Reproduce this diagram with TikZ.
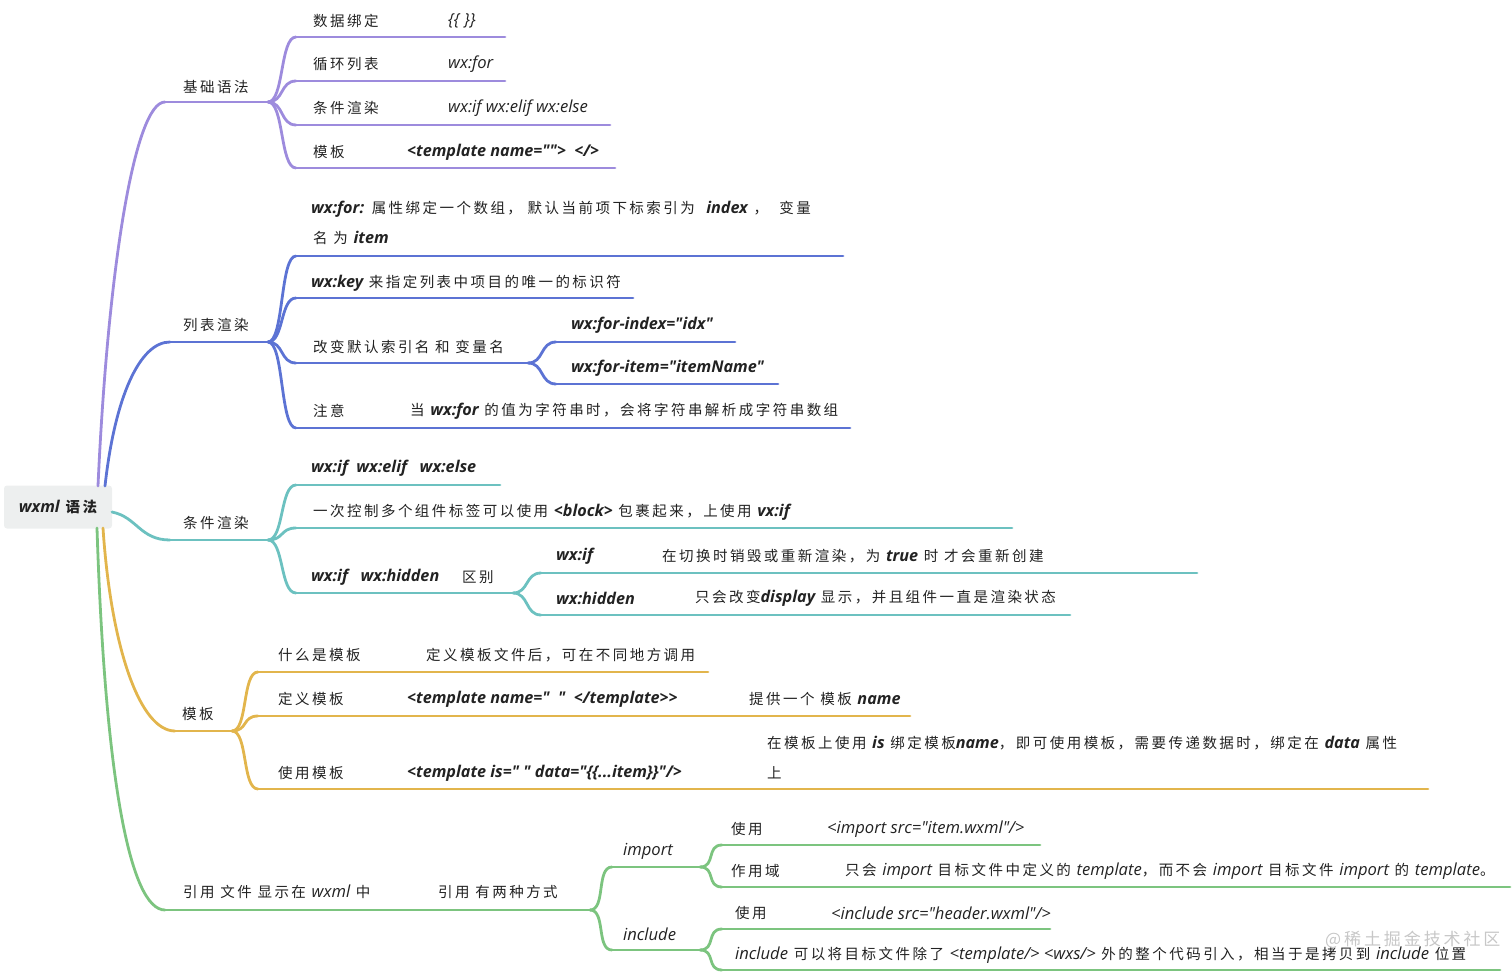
\documentclass[tikz,border=0pt]{standalone}
\usepackage{fontspec}
\setmainfont{Noto Sans CJK SC}[LetterSpace=17]
\newfontfamily\enf{Open Sans}
\newcommand\zhsize{\fontsize{14.5}{17}\selectfont}
\newcommand\en[1]{{\enf\fontsize{16.6}{17}\selectfont\itshape #1}}
\newcommand\eb[1]{{\enf\fontsize{16.2}{17}\selectfont\bfseries\itshape #1}}
\definecolor{cP}{HTML}{9D8BDD}
\definecolor{cB}{HTML}{5C73D4}
\definecolor{cT}{HTML}{6CC1C0}
\definecolor{cY}{HTML}{E2B54C}
\definecolor{cG}{HTML}{7CC47F}
\definecolor{txtc}{HTML}{222222}
\definecolor{rootfill}{HTML}{EDEFEF}
\tikzset{
  br/.style={line width=2.8pt, line cap=round},
  tx/.style={anchor=west, inner sep=0pt, font=\zhsize, text=txtc},
  rootbox/.style={rounded corners=3pt, fill=rootfill, minimum width=108pt, minimum height=43pt, inner sep=0pt, font=\zhsize\bfseries, text=txtc},
  wm/.style={anchor=west, inner sep=0pt, font=\fontsize{17}{19}\selectfont, text=black!22},
}
\newcommand\link[3]{\draw[br,#1] (#2) .. controls +(16,0) and +(-16,0) .. (#3);}
\newcommand\uline[3]{\draw[br,#1] (#2) -- (#3);}
\begin{document}
\begin{tikzpicture}[x=1pt,y=-1pt]
\useasboundingbox (0,0) rectangle (1512,976);
% ---------- root ----------
\node[rootbox] (root) at (58,507) {\eb{wxml} 语法};
\coordinate (rP) at (98,486);
\coordinate (rB) at (105,486);
\coordinate (rT) at (112,512);
\coordinate (rY) at (103,528);
\coordinate (rG) at (97,528);
% ---------- purple: 基础语法 ----------
\coordinate (b1s) at (165,102); \coordinate (b1) at (268,102);
\coordinate (p1s) at (296,37);  \coordinate (p1e) at (505,37);
\coordinate (p2s) at (296,81);  \coordinate (p2e) at (505,81);
\coordinate (p3s) at (296,125); \coordinate (p3e) at (610,125);
\coordinate (p4s) at (296,168); \coordinate (p4e) at (615,168);
\draw[br,cP] (rP) .. controls +(10,-220) and +(-30,0) .. (b1s);
\uline{cP}{b1s}{b1}
\foreach \c in {p1,p2,p3,p4}{\link{cP}{b1}{\c s}\uline{cP}{\c s}{\c e}}
\node[tx] (n1) at (183,87) {基础语法};
\node[tx] (n11) at (313,21) {数据绑定};
\node[tx] (n11b) at (448,21) {\en{\{\{ \}\}}};
\node[tx] (n12) at (313,64) {循环列表};
\node[tx] (n12b) at (448,64) {\en{wx:for}};
\node[tx] (n13) at (313,108) {条件渲染};
\node[tx] (n13b) at (448,108) {\en{wx:if wx:elif wx:else}};
\node[tx] (n14) at (313,152) {模板};
\node[tx] (n14b) at (407,152) {\eb{<template name=""> \ </>}};
% ---------- blue: 列表渲染 ----------
\coordinate (b2s) at (170,342); \coordinate (b2) at (268,342);
\coordinate (q1s) at (296,256); \coordinate (q1e) at (843,256);
\coordinate (q2s) at (296,298); \coordinate (q2e) at (633,298);
\coordinate (q3s) at (296,363); \coordinate (q3) at (528,363);
\coordinate (q4s) at (296,428); \coordinate (q4e) at (850,428);
\coordinate (q31s) at (556,342); \coordinate (q31e) at (735,342);
\coordinate (q32s) at (556,384); \coordinate (q32e) at (778,384);
\draw[br,cB] (rB) .. controls +(10,-90) and +(-30,0) .. (b2s);
\uline{cB}{b2s}{b2}
\foreach \c in {q1,q2,q4}{\link{cB}{b2}{\c s}\uline{cB}{\c s}{\c e}}
\link{cB}{b2}{q3s}\uline{cB}{q3s}{q3}
\foreach \c in {q31,q32}{\link{cB}{q3}{\c s}\uline{cB}{\c s}{\c e}}
\node[tx] (n2) at (183,325) {列表渲染};
\node[tx] (n21) at (311,209) {\eb{wx:for:} 属性绑定一个数组， 默认当前项下标索引为 \ \eb{index} ， \ 变量};
\node[tx] (n21b) at (313,238) {名 为 \eb{item}};
\node[tx] (n22) at (311,283) {\eb{wx:key} 来指定列表中项目的唯一的标识符};
\node[tx] (n23) at (313,347) {改变默认索引名 和 变量名};
\node[tx] (n231) at (571,325) {\eb{wx:for-index="idx"}};
\node[tx] (n232) at (571,368) {\eb{wx:for-item="itemName"}};
\node[tx] (n24) at (313,411) {注意};
\node[tx] (n24b) at (410,411) {当 \eb{wx:for} 的值为字符串时，会将字符串解析成字符串数组};
% ---------- teal: 条件渲染 ----------
\coordinate (b3s) at (170,540); \coordinate (b3) at (268,540);
\coordinate (t1s) at (296,485); \coordinate (t1e) at (500,485);
\coordinate (t2s) at (296,528); \coordinate (t2e) at (1012,528);
\coordinate (t3s) at (296,593); \coordinate (t3) at (513,593);
\coordinate (t31s) at (541,573); \coordinate (t31e) at (1197,573);
\coordinate (t32s) at (541,615); \coordinate (t32e) at (1070,615);
\draw[br,cT] (rT) .. controls +(25,5) and +(-30,0) .. (b3s);
\uline{cT}{b3s}{b3}
\foreach \c in {t1,t2}{\link{cT}{b3}{\c s}\uline{cT}{\c s}{\c e}}
\link{cT}{b3}{t3s}\uline{cT}{t3s}{t3}
\foreach \c in {t31,t32}{\link{cT}{t3}{\c s}\uline{cT}{\c s}{\c e}}
\node[tx] (n3) at (183,523) {条件渲染};
\node[tx] (n31) at (311,468) {\eb{wx:if \ wx:elif \ \ wx:else}};
\node[tx] (n32) at (313,512) {一次控制多个组件标签可以使用 \eb{<block>} 包裹起来，上使用 \eb{vx:if}};
\node[tx] (n33) at (311,577) {\eb{wx:if \ \ wx:hidden}};
\node[tx] (n33b) at (462,577) {区别};
\node[tx] (n331) at (556,556) {\eb{wx:if}};
\node[tx] (n331b) at (662,556) {在切换时销毁或重新渲染，为 \eb{true} 时 才会重新创建};
\node[tx] (n332) at (556,598) {\eb{wx:hidden}};
\node[tx] (n332b) at (695,598) {只会改变\eb{display} 显示，并且组件一直是渲染状态};
% ---------- yellow: 模板 ----------
\coordinate (b4s) at (175,731); \coordinate (b4) at (232,731);
\coordinate (y1s) at (258,672); \coordinate (y1e) at (708,672);
\coordinate (y2s) at (258,716); \coordinate (y2e) at (910,716);
\coordinate (y3s) at (258,789); \coordinate (y3e) at (1428,789);
\draw[br,cY] (rY) .. controls +(8,120) and +(-35,0) .. (b4s);
\uline{cY}{b4s}{b4}
\foreach \c in {y1,y2,y3}{\link{cY}{b4}{\c s}\uline{cY}{\c s}{\c e}}
\node[tx] (n4) at (182,714) {模板};
\node[tx] (n41) at (278,655) {什么是模板};
\node[tx] (n41b) at (426,655) {定义模板文件后，可在不同地方调用};
\node[tx] (n42) at (278,699) {定义模板};
\node[tx] (n42b) at (407,699) {\eb{<template name=" \ " \ </template>>}};
\node[tx] (n42c) at (749,699) {提供一个 模板 \eb{name}};
\node[tx] (n43) at (278,773) {使用模板};
\node[tx] (n43b) at (407,773) {\eb{<template is=" " data="\{\{...item\}\}"/>}};
\node[tx] (n43c) at (767,743) {在模板上使用 \eb{is} 绑定模板\eb{name}，即可使用模板，需要传递数据时，绑定在 \eb{data} 属性};
\node[tx] (n43d) at (767,773) {上};
% ---------- green: 引用 ----------
\coordinate (b5s) at (165,910); \coordinate (b5) at (590,910);
\coordinate (g1s) at (612,867); \coordinate (g1) at (700,867);
\coordinate (g2s) at (612,950); \coordinate (g2) at (700,950);
\coordinate (g11s) at (722,845); \coordinate (g11e) at (1040,845);
\coordinate (g12s) at (722,887); \coordinate (g12e) at (1510,887);
\coordinate (g21s) at (722,929); \coordinate (g21e) at (1050,929);
\coordinate (g22s) at (722,970); \coordinate (g22e) at (1500,970);
\draw[br,cG] (rG) .. controls +(8,250) and +(-35,0) .. (b5s);
\uline{cG}{b5s}{b5}
\link{cG}{b5}{g1s}\uline{cG}{g1s}{g1}
\link{cG}{b5}{g2s}\uline{cG}{g2s}{g2}
\foreach \c in {g11,g12}{\link{cG}{g1}{\c s}\uline{cG}{\c s}{\c e}}
\foreach \c in {g21,g22}{\link{cG}{g2}{\c s}\uline{cG}{\c s}{\c e}}
\node[tx] (n5) at (183,892) {引用 文件 显示在 \en{wxml} 中};
\node[tx] (n51) at (438,892) {引用 有两种方式};
\node[tx] (n511) at (623,851) {\en{import}};
\node[tx] (n5111) at (731,829) {使用};
\node[tx] (n5111b) at (827,829) {\en{<import src="item.wxml"/>}};
\node[tx] (n5112) at (731,871) {作用域};
\node[tx] (n5112b) at (845,871) {只会 \en{import} 目标文件中定义的 \en{template}，而不会 \en{import} 目标文件 \en{import} 的 \en{template}。};
\node[tx] (n512) at (623,934) {\en{include}};
\node[tx] (n5121) at (735,913) {使用};
\node[tx] (n5121b) at (831,913) {\en{<include src="header.wxml"/>}};
\node[tx] (n5122) at (735,955) {\en{include} 可以将目标文件除了 \en{<template/> <wxs/>} 外的整个代码引入，相当于是拷贝到 \en{include} 位置};
\node[wm] (wmk) at (1325,940) {@稀土掘金技术社区};
\end{tikzpicture}
\end{document}
